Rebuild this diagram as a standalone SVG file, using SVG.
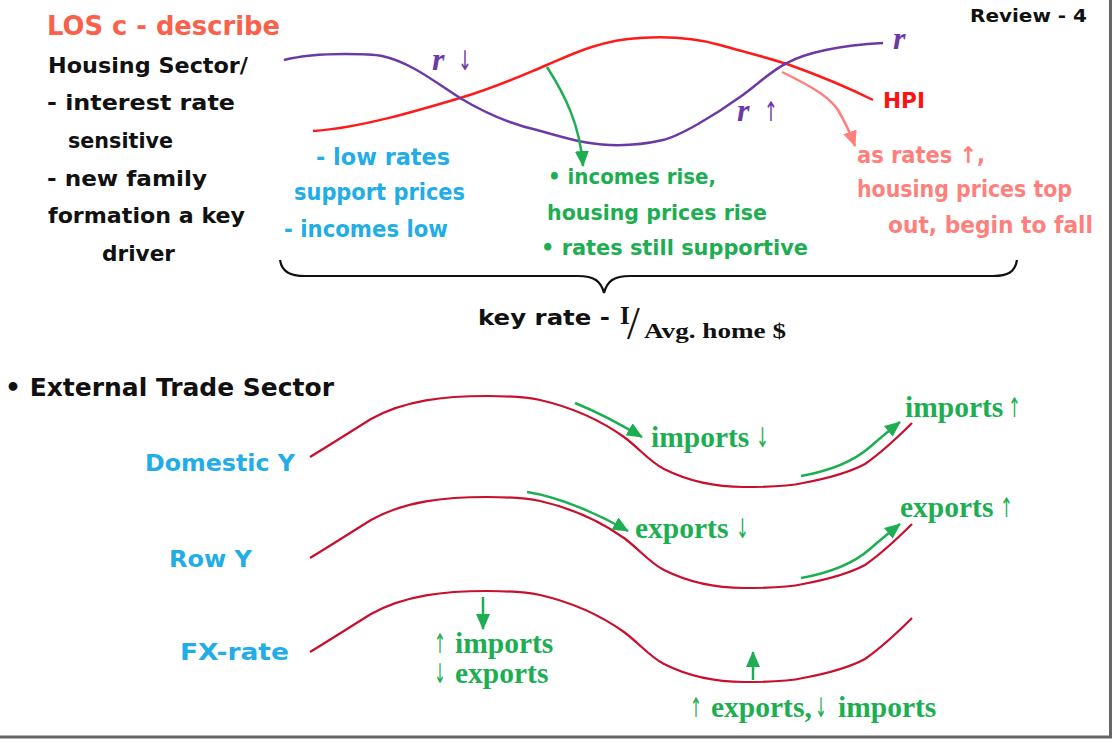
<svg xmlns="http://www.w3.org/2000/svg" xmlns:xlink="http://www.w3.org/1999/xlink" width="1112" height="747" viewBox="0 0 1112 747">
<style>
.h{font-family:"DejaVu Sans","Liberation Sans",sans-serif;font-weight:bold}
.s{font-family:"Liberation Serif","DejaVu Serif",serif;font-weight:bold}
.a{font-family:"DejaVu Sans","Liberation Sans",sans-serif;font-weight:normal;font-size:27px;font-style:normal}
.k{fill:#111}
.blue{fill:#22ADE8}
.grn{fill:#1EAE52}
.sal{fill:#FF7F7C}
.pur{fill:#6B3AA6}
.rc{fill:none;stroke:#C8102E;stroke-width:2.2}
.ga{fill:none;stroke:#1EAE52;stroke-width:2.5}
</style>
<defs>
<marker id="mg" markerUnits="userSpaceOnUse" markerWidth="16" markerHeight="14" refX="15" refY="7" orient="auto"><path d="M0,0 L16,7 L0,14 z" fill="#1EAE52"/></marker>
<marker id="ms" markerUnits="userSpaceOnUse" markerWidth="16" markerHeight="14" refX="15" refY="7" orient="auto"><path d="M0,0 L16,7 L0,14 z" fill="#FF7F7C"/></marker>
<path id="wave" d="M310,457 C330,445 350,432 371,419 C405,400 445,396 487,396 C510,396 525,397 540,400 C575,408 600,420 624,437 C640,449 650,462 664,469 C690,482 720,487 744,487 C770,487 790,486 803,483 C830,478 850,472 865,464 C885,450 900,435 912,423"/>
</defs>
<rect width="1112" height="747" fill="#fff"/>
<line x1="0" y1="737" x2="1112" y2="737" stroke="#666" stroke-width="3"/>
<line x1="1110.5" y1="0" x2="1110.5" y2="738" stroke="#666" stroke-width="3"/>

<g id="header">
<text class="h" x="47" y="35" font-size="26" fill="#F9614A" textLength="233" lengthAdjust="spacingAndGlyphs">LOS c - describe</text>
<text class="h k" x="970" y="22" font-size="18" textLength="117" lengthAdjust="spacingAndGlyphs">Review - 4</text>
</g>
<g id="housing-notes" class="h k" font-size="22">
<text x="48" y="73" textLength="200" lengthAdjust="spacingAndGlyphs">Housing Sector/</text>
<text x="47" y="110" textLength="188" lengthAdjust="spacingAndGlyphs">- interest rate</text>
<text x="68" y="148" textLength="105" lengthAdjust="spacingAndGlyphs">sensitive</text>
<text x="47" y="186" textLength="160" lengthAdjust="spacingAndGlyphs">- new family</text>
<text x="48" y="223" textLength="197" lengthAdjust="spacingAndGlyphs">formation a key</text>
<text x="102" y="261" textLength="73" lengthAdjust="spacingAndGlyphs">driver</text>
</g>

<g id="curve-hpi">
<path d="M313,131 C360,128 420,110 460,98 C500,86 525,74 547,65 C570,55 600,40 640,38 C670,36 695,38 720,45 C745,52 765,57 787,64 C815,74 845,86 873,100" fill="none" stroke="#FF1A1A" stroke-width="2.5"/>
<text class="h" x="883" y="108" font-size="22" fill="#FF1111" textLength="42" lengthAdjust="spacingAndGlyphs">HPI</text>
</g>
<g id="curve-r">
<path d="M284,60 C300,56 320,54 345,54 C360,54 372,54 382,56 C410,62 435,82 460,98 C485,113 510,124 537,130 C565,138 585,144 610,145 C635,146 650,143 663,140 C680,136 715,115 740,97 C757,85 772,70 787,63 C805,53 840,45 883,43" fill="none" stroke="#6B3AA6" stroke-width="2.5"/>
<text class="s pur" x="893" y="49" font-size="32" font-style="italic">r</text>
</g>
<g id="label-r-down">
<text class="s pur" font-size="32" font-style="italic" y="70"><tspan x="432">r</tspan><tspan class="a" x="458" textLength="14" lengthAdjust="spacingAndGlyphs">↓</tspan></text>
</g>
<g id="label-r-up">
<text class="s pur" font-size="32" font-style="italic" y="121"><tspan x="737">r</tspan><tspan class="a" x="764" textLength="14" lengthAdjust="spacingAndGlyphs">↑</tspan></text>
</g>

<g id="connectors-top">
<path d="M547,67 C565,95 580,125 583,166" fill="none" stroke="#1EAE52" stroke-width="2.5" marker-end="url(#mg)"/>
<path d="M782,72 C815,88 830,98 838,110 C845,122 850,132 855,146" fill="none" stroke="#FF7F7C" stroke-width="2.5" marker-end="url(#ms)"/>
</g>

<g id="phase1" class="h blue" font-size="23">
<text x="316" y="165" textLength="134" lengthAdjust="spacingAndGlyphs">- low rates</text>
<text x="294" y="200" textLength="171" lengthAdjust="spacingAndGlyphs">support prices</text>
<text x="284" y="237" textLength="164" lengthAdjust="spacingAndGlyphs">- incomes low</text>
</g>
<g id="phase2" class="h grn" font-size="22">
<text x="548" y="184" textLength="168" lengthAdjust="spacingAndGlyphs">• incomes rise,</text>
<text x="547" y="220" textLength="220" lengthAdjust="spacingAndGlyphs">housing prices rise</text>
<text x="541" y="255" textLength="267" lengthAdjust="spacingAndGlyphs">• rates still supportive</text>
</g>
<g id="phase3" class="h sal" font-size="23">
<text x="857" y="163" textLength="128" lengthAdjust="spacingAndGlyphs">as rates ↑,</text>
<text x="857" y="197" textLength="215" lengthAdjust="spacingAndGlyphs">housing prices top</text>
<text x="888" y="233" textLength="205" lengthAdjust="spacingAndGlyphs">out, begin to fall</text>
</g>

<g id="brace">
<path d="M280,260 C282,272 290,276 305,276 L578,276 C594,276 601,281 604,293 C607,281 614,276 630,276 L993,276 C1008,276 1015,272 1017,260" fill="none" stroke="#111" stroke-width="2.2"/>
</g>
<g id="key-rate">
<text class="h k" x="478" y="325" font-size="22" textLength="132" lengthAdjust="spacingAndGlyphs">key rate -</text>
<text class="s k"><tspan x="620" y="324" font-size="25">I</tspan><tspan x="627" y="339" font-size="46" font-weight="normal">/</tspan><tspan x="644" y="338" font-size="22" textLength="142" lengthAdjust="spacingAndGlyphs">Avg. home $</tspan></text>
</g>

<g id="trade-title">
<text class="h k" x="5" y="396" font-size="24" textLength="329" lengthAdjust="spacingAndGlyphs">• External Trade Sector</text>
</g>
<g id="domestic-y">
<text class="h blue" x="145" y="471" font-size="23" textLength="150" lengthAdjust="spacingAndGlyphs">Domestic Y</text>
<use xlink:href="#wave" class="rc"/>
</g>
<g id="row-y">
<text class="h blue" x="169" y="567" font-size="23" textLength="83" lengthAdjust="spacingAndGlyphs">Row Y</text>
<use xlink:href="#wave" class="rc" y="101"/>
</g>
<g id="fx-rate">
<text class="h blue" x="180" y="660" font-size="23" textLength="109" lengthAdjust="spacingAndGlyphs">FX-rate</text>
<use xlink:href="#wave" class="rc" y="195"/>
</g>

<g id="connectors-bottom" class="ga">
<path d="M575,403 C600,413 620,424 642,437" marker-end="url(#mg)"/>
<path d="M801,476 C835,470 855,460 870,447 C880,438 890,430 900,422" marker-end="url(#mg)"/>
<path d="M527,492 C560,497 600,515 628,531" marker-end="url(#mg)"/>
<path d="M801,578 C835,572 855,562 870,549 C880,540 890,532 900,524" marker-end="url(#mg)"/>
<path d="M483,597 L483,629" marker-end="url(#mg)"/>
<path d="M753,680 L753,652" marker-end="url(#mg)"/>
</g>

<g id="trade-labels" class="s grn" font-size="29.5">
<text y="447"><tspan x="651">imports</tspan><tspan class="a" x="756" textLength="13" lengthAdjust="spacingAndGlyphs">↓</tspan></text>
<text y="417"><tspan x="905">imports</tspan><tspan class="a" x="1008" textLength="13" lengthAdjust="spacingAndGlyphs">↑</tspan></text>
<text y="538"><tspan x="635">exports</tspan><tspan class="a" x="736" textLength="13" lengthAdjust="spacingAndGlyphs">↓</tspan></text>
<text y="517"><tspan x="900">exports</tspan><tspan class="a" x="1000" textLength="13" lengthAdjust="spacingAndGlyphs">↑</tspan></text>
<text y="653"><tspan class="a" x="434" textLength="12" lengthAdjust="spacingAndGlyphs">↑</tspan><tspan x="455">imports</tspan></text>
<text y="683"><tspan class="a" x="434" textLength="12" lengthAdjust="spacingAndGlyphs">↓</tspan><tspan x="455">exports</tspan></text>
<text y="717"><tspan class="a" x="690" textLength="12" lengthAdjust="spacingAndGlyphs">↑</tspan><tspan x="711">exports,</tspan><tspan class="a" x="815" textLength="12" lengthAdjust="spacingAndGlyphs">↓</tspan><tspan x="838">imports</tspan></text>
</g>
</svg>
